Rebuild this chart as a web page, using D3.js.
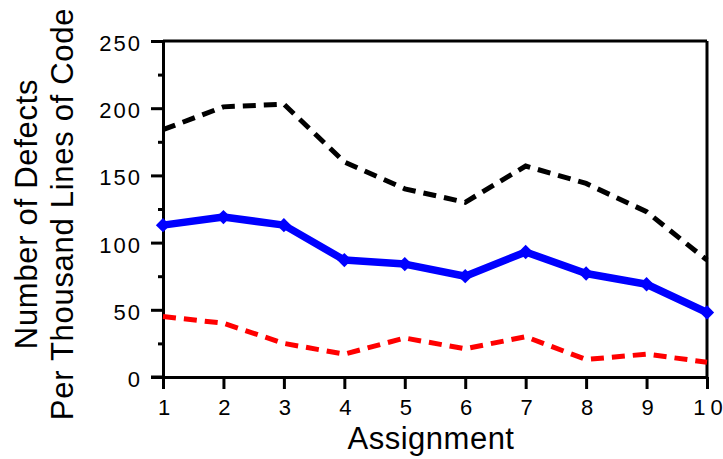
<!DOCTYPE html>
<html>
<head>
<meta charset="utf-8">
<script src="https://cdn.jsdelivr.net/npm/d3@7"></script>
<style>
  html, body { margin: 0; padding: 0; background: #fff; }
  svg { display: block; font-family: "Liberation Sans", Arial, Helvetica, sans-serif; }
</style>
</head>
<body>
<svg id="chart" width="723" height="459"></svg>
<script>
const assignments = [1, 2, 3, 4, 5, 6, 7, 8, 9, 10];
const upperValues = [184, 201, 203, 160, 140, 130, 157, 144, 123, 87];
const meanValues  = [113, 119, 113, 87, 84, 75, 93, 77, 69, 48];
const lowerValues = [45, 40, 25, 17, 29, 21, 30, 13, 17, 11];
const yTicks = [0, 50, 100, 150, 200, 250];
const yMinorTicks = [25, 75, 125, 175, 225];
const xTickLabels = ["1", "2", "3", "4", "5", "6", "7", "8", "9", "10"];

const svg = d3.select("#chart");
const plotLeft = 163, plotRight = 707, plotTop = 41, plotBottom = 377;

const x = d3.scaleLinear().domain([1, 10]).range([plotLeft, plotRight]);
const y = d3.scaleLinear().domain([0, 250]).range([plotBottom, plotTop]);

// frame: top and right
svg.append("line").attr("x1", plotLeft).attr("x2", plotRight).attr("y1", plotTop).attr("y2", plotTop)
  .attr("stroke", "#000").attr("stroke-width", 3);
svg.append("line").attr("x1", plotRight).attr("x2", plotRight).attr("y1", plotTop).attr("y2", plotBottom)
  .attr("stroke", "#000").attr("stroke-width", 3);

// y axis major
const yAxis = svg.append("g").attr("transform", `translate(${plotLeft},0)`)
  .call(d3.axisLeft(y).tickValues(yTicks).tickSize(12).tickSizeOuter(0).tickPadding(0));
yAxis.select(".domain").attr("stroke-width", 3);
yAxis.selectAll(".tick line").attr("stroke-width", 3);
yAxis.selectAll(".tick text").remove();
// y minor
svg.append("g").attr("transform", `translate(${plotLeft},0)`)
  .call(d3.axisLeft(y).tickValues(yMinorTicks).tickSize(5).tickSizeOuter(0).tickFormat(""))
  .call(g => g.select(".domain").remove())
  .selectAll(".tick line").attr("stroke-width", 3);

// y tick labels
svg.append("g").selectAll("text").data(yTicks).join("text")
  .attr("x", 142).attr("y", d => y(d) + 10)
  .attr("text-anchor", "end")
  .attr("font-size", 22).attr("letter-spacing", 2)
  .attr("fill", "#000")
  .text(d => d);

// x axis
const xAxis = svg.append("g").attr("transform", `translate(0,${plotBottom})`)
  .call(d3.axisBottom(x).tickValues(assignments).tickSize(12).tickSizeOuter(0));
xAxis.select(".domain").attr("stroke-width", 3);
xAxis.selectAll(".tick line").attr("stroke-width", 3);
xAxis.selectAll(".tick text").remove();
svg.append("line").attr("x1", plotLeft - 12).attr("x2", plotLeft).attr("y1", plotBottom).attr("y2", plotBottom)
  .attr("stroke", "#000").attr("stroke-width", 3);

svg.append("g").selectAll("text").data(assignments).join("text")
  .attr("x", d => x(d) + 1).attr("y", 415)
  .attr("text-anchor", "middle")
  .attr("font-size", 22)
  .attr("fill", "#000")
  .each(function(d, i) {
    const t = d3.select(this);
    const chars = xTickLabels[i].split("");
    chars.forEach((c, k) => t.append("tspan").attr("dx", k === 0 ? 0 : 5).text(c));
  });

// axis titles
svg.append("text").attr("x", 431).attr("y", 449).attr("text-anchor", "middle")
  .attr("font-size", 31).attr("letter-spacing", 0.5).text("Assignment");
const yt = svg.append("text").attr("transform", "translate(0,214) rotate(-90)")
  .attr("text-anchor", "middle").attr("font-size", 31).attr("letter-spacing", 0.7);
yt.append("tspan").attr("x", 0).attr("y", 37).text("Number of Defects");
yt.append("tspan").attr("x", 0).attr("y", 73).text("Per Thousand Lines of Code");

const line = d3.line().x((d, i) => x(assignments[i])).y(d => y(d));

svg.append("path").datum(upperValues).attr("d", line)
  .attr("fill", "none").attr("stroke", "#000").attr("stroke-width", 5)
  .attr("stroke-dasharray", "13,8");
svg.append("path").datum(lowerValues).attr("d", line)
  .attr("fill", "none").attr("stroke", "#ff0000").attr("stroke-width", 5)
  .attr("stroke-dasharray", "13,8");
svg.append("path").datum(meanValues).attr("d", line)
  .attr("fill", "none").attr("stroke", "#0000ff").attr("stroke-width", 7.5)
  .attr("stroke-linejoin", "round");
svg.append("g").selectAll("path").data(meanValues).join("path")
  .attr("transform", (d, i) => `translate(${x(assignments[i])},${y(d)})`)
  .attr("d", d3.symbol(d3.symbolDiamond2, 130)())
  .attr("fill", "#0000ff");
</script>
</body>
</html>
